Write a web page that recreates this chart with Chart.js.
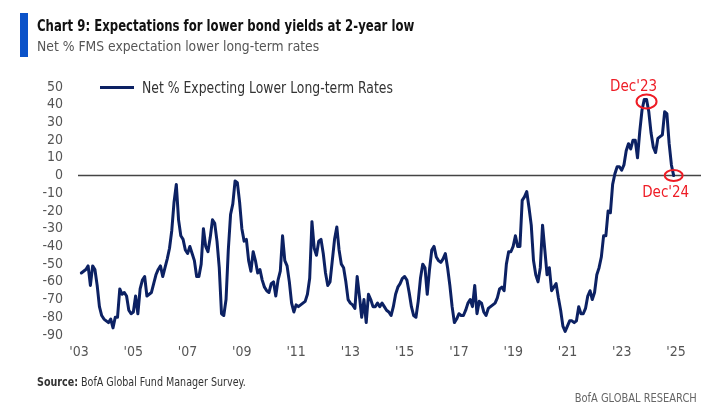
<!DOCTYPE html>
<html>
<head>
<meta charset="utf-8">
<script src="https://cdn.jsdelivr.net/npm/chart.js@4.4.1/dist/chart.umd.min.js"></script>
<style>
  html, body { margin: 0; padding: 0; background: #fff; }
  #wrap { position: relative; width: 701px; height: 417px; overflow: hidden;
          font-family: "Liberation Sans Narrow", "DejaVu Sans Condensed", "Open Sans", sans-serif; }
  #c { position: absolute; left: 0; top: 0; }
  .bar { position: absolute; left: 20px; top: 13px; width: 8px; height: 44px; background: #0b52c9; }
  .title { position: absolute; left: 37px; top: 17px; font-size: 15.5px; font-weight: bold; color: #111; white-space: nowrap;
           transform: scaleX(0.84); transform-origin: left center; }
  .sub { position: absolute; left: 37px; top: 38px; font-size: 14.5px; color: #555; white-space: nowrap;
         transform: scaleX(0.95); transform-origin: left center; }
  .legend { position: absolute; left: 100px; top: 79px; font-size: 15px; color: #333; white-space: nowrap; }
  .legend .sw { display: inline-block; width: 34px; height: 3px; background: #0c2163; vertical-align: middle; margin-right: 8px; position: relative; top: -1px; }
  .legend .tx { display: inline-block; transform: scaleX(0.92); transform-origin: left center; }
  .src { position: absolute; left: 37px; top: 374px; font-size: 12.5px; color: #333; white-space: nowrap;
         transform: scaleX(0.85); transform-origin: left center; }
  .brand { position: absolute; right: 4px; top: 390px; font-size: 12.5px; color: #666; white-space: nowrap;
           transform: scaleX(0.88); transform-origin: right center; }
</style>
</head>
<body>
<div id="wrap">
  <canvas id="c" width="701" height="417"></canvas>
  <div class="bar"></div>
  <div class="title">Chart 9: Expectations for lower bond yields at 2-year low</div>
  <div class="sub">Net % FMS expectation lower long-term rates</div>
  <div class="legend"><span class="sw"></span><span class="tx">Net % Expecting Lower Long-term Rates</span></div>
  <div class="src"><b>Source:</b> BofA Global Fund Manager Survey.</div>
  <div class="brand">BofA GLOBAL RESEARCH</div>
</div>
<script>
// Monthly series, first value = Feb 2003, last value = Dec 2024
const startYear = 2003;
const startMonth = 2; // February
const seriesName = "Net % Expecting Lower Long-term Rates";
const values2003to2008 = [
  -55,-54,-53,-51,-62,-51,-53,-62,-74,-79,
  -81,-82,-83,-81,-86,-80,-80,-64,-67,-66,
  -68,-76,-78,-77,-68,-78,-64,-59,-57,-68,
  -67,-66,-61,-56,-53,-51,-57,-52,-47,-41,
  -31,-15,-5,-25,-34,-36,-42,-44,-40,-44,
  -48,-57,-57,-50,-30,-40,-43,-35,-25,-27,
  -37,-52,-78
];
const values2008to2013 = [
  -79,-70,-42,-22,-16,-3,-4,-15,-30,-37,
  -36,-48,-54,-43,-48,-55,-53,-59,-63,-65,
  -66,-61,-60,-68,-59,-54,-34,-48,-51,-60,
  -72,-77,-73,-74,-73,-72,-71,-67,-58,-26,
  -41,-45,-37,-36,-44,-55,-62,-60,-48,-36,
  -29,-42,-50,-52,-60,-70,-72,-73,-75,-57,
  -68,-80,-70,-83,-67
];
const values2013to2019 = [
  -70,-74,-74,-72,-74,-72,-74,-76,-77,-79,
  -74,-67,-63,-61,-58,-57,-59,-66,-74,-79,
  -80,-71,-58,-50,-52,-67,-53,-42,-40,-46,
  -48,-49,-47,-44,-52,-62,-74,-83,-81,-78,
  -79,-79,-76,-72,-70,-74,-62,-78,-71,-72,
  -77,-79,-75,-74,-73,-72,-69,-64,-63,-65,
  -50,-43,-43,-40,-34,-40
];
const values2019to2024 = [
  -40,-14,-12,-9,-18,-28,-48,-56,-60,-52,
  -28,-42,-56,-52,-65,-63,-61,-69,-76,-85,
  -88,-85,-82,-82,-83,-82,-74,-78,-78,-75,
  -68,-65,-70,-66,-56,-52,-46,-34,-34,-20,
  -21,-5,1,5,5,3,6,14,18,15,
  20,20,10,25,37,43,43,36,24,16,
  13,21,22,23,36,35,18,6,0
];
const tickYears = [2003,2005,2007,2009,2011,2013,2015,2017,2019,2021,2023,2025];
const tickLabels = ["'03","'05","'07","'09","'11","'13","'15","'17","'19","'21","'23","'25"];
const yTicks = [50,40,30,20,10,0,-10,-20,-30,-40,-50,-60,-70,-80,-90];
const annotations = [ {label: "Dec'23", year: 2023, month: 12, pos: "above"},
                      {label: "Dec'24", year: 2024, month: 12, pos: "below"} ];

const allValues = [].concat(values2003to2008, values2008to2013, values2013to2019, values2019to2024);
const toX = (y, m) => y + (m - 1) / 12;
const points = allValues.map((v, i) => {
  const mIdx = startMonth - 1 + i;
  return { x: toX(startYear + Math.floor(mIdx / 12), (mIdx % 12) + 1), y: v };
});

const FONT = '"Liberation Sans Narrow", "DejaVu Sans Condensed", "Open Sans", sans-serif';
const NAVY = '#0c2163';
const RED = '#ee1c25';

const overlay = {
  id: 'overlay',
  beforeDatasetsDraw(chart) {
    const { ctx, scales: { x, y } } = chart;
    const y0 = y.getPixelForValue(0);
    ctx.save();
    ctx.strokeStyle = '#444';
    ctx.lineWidth = 1.5;
    ctx.beginPath();
    ctx.moveTo(chart.chartArea.left, y0);
    ctx.lineTo(chart.width, y0);
    ctx.stroke();
    ctx.restore();
  },
  afterDatasetsDraw(chart) {
    const { ctx, scales: { x, y } } = chart;
    ctx.save();
    annotations.forEach(a => {
      const xv = toX(a.year, a.month);
      const p = points.find(pt => Math.abs(pt.x - xv) < 1e-6);
      if (!p) return;
      const px = x.getPixelForValue(p.x), py = y.getPixelForValue(p.y);
      ctx.strokeStyle = RED;
      ctx.lineWidth = 2;
      ctx.beginPath();
      if (a.pos === 'above') ctx.ellipse(px, py + 2, 10, 7, 0, 0, Math.PI * 2);
      else ctx.ellipse(px, py, 9, 5.5, 0, 0, Math.PI * 2);
      ctx.stroke();
      ctx.fillStyle = RED;
      ctx.font = '15px ' + FONT;
      ctx.textAlign = 'center';
      ctx.textBaseline = 'middle';
      if (a.pos === 'above') ctx.fillText(a.label, px - 13, py - 12);
      else ctx.fillText(a.label, px - 8, py + 18);
    });
    ctx.restore();
  }
};

new Chart(document.getElementById('c'), {
  type: 'line',
  data: {
    datasets: [{
      label: seriesName,
      data: points,
      borderColor: NAVY,
      backgroundColor: NAVY,
      borderWidth: 3,
      pointRadius: 0,
      tension: 0,
      borderJoinStyle: 'round',
      borderCapStyle: 'round'
    }]
  },
  options: {
    responsive: false,
    animation: false,
    layout: { padding: { top: 87, right: 2, bottom: 57, left: 0 } },
    plugins: { legend: { display: false }, tooltip: { enabled: false } },
    scales: {
      x: {
        type: 'linear',
        min: 2002.96,
        max: 2025.85,
        grid: { display: false, drawTicks: false },
        border: { display: false },
        afterBuildTicks: s => { s.ticks = tickYears.map(v => ({ value: v })); },
        afterFit: s => { s.height = 25; },
        ticks: {
          autoSkip: false, maxRotation: 0, padding: 9,
          color: '#555', font: { family: FONT, size: 14 },
          callback: v => { const k = tickYears.indexOf(v); return k >= 0 ? tickLabels[k] : ''; }
        }
      },
      y: {
        min: -90, max: 50,
        grid: { display: false, drawTicks: false },
        border: { display: false },
        afterBuildTicks: s => { s.ticks = yTicks.map(v => ({ value: v })); },
        afterFit: s => { s.width = 78; },
        ticks: { autoSkip: false, padding: 15, color: '#555', font: { family: FONT, size: 14 } }
      }
    }
  },
  plugins: [overlay]
});
</script>
</body>
</html>
